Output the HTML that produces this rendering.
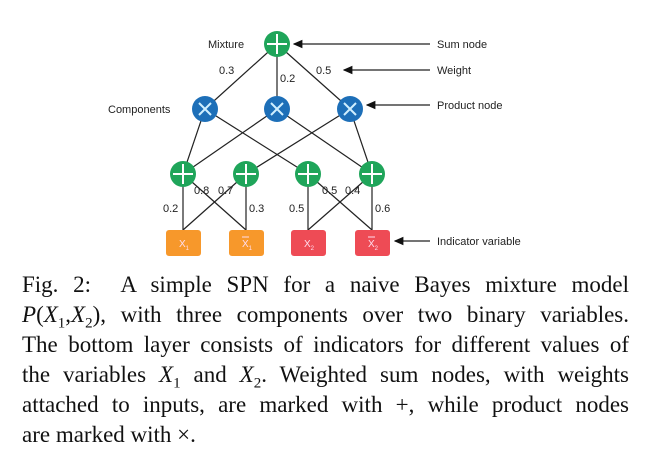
<!DOCTYPE html>
<html><head><style>
body{margin:0;width:656px;height:454px;background:#fff;position:relative;overflow:hidden}
.c{position:absolute;left:22px;width:607px;font-family:"Liberation Serif",serif;font-size:23px;line-height:30px;text-align:justify;text-align-last:justify;color:#111;white-space:nowrap}
sub{font-size:15px;line-height:0}
</style></head><body>
<svg width="656" height="270" style="position:absolute;left:0;top:0" font-family="Liberation Sans, sans-serif">
<defs><marker id="a" markerWidth="8" markerHeight="8" refX="7" refY="4" orient="auto"><path d="M0,0.5 L8,4 L0,7.5 z" fill="#111"/></marker></defs>
<g stroke="#222" stroke-width="1.2">
<line x1="277" y1="44" x2="205" y2="109"/><line x1="277" y1="44" x2="277" y2="109"/><line x1="277" y1="44" x2="350" y2="109"/>
<line x1="205" y1="109" x2="183" y2="174"/><line x1="205" y1="109" x2="308" y2="174"/>
<line x1="277" y1="109" x2="183" y2="174"/><line x1="277" y1="109" x2="372" y2="174"/>
<line x1="350" y1="109" x2="246" y2="174"/><line x1="350" y1="109" x2="372" y2="174"/>
<line x1="183" y1="174" x2="183" y2="230"/><line x1="183" y1="174" x2="246" y2="230"/>
<line x1="246" y1="174" x2="183" y2="230"/><line x1="246" y1="174" x2="246" y2="230"/>
<line x1="308" y1="174" x2="308" y2="230"/><line x1="308" y1="174" x2="372" y2="230"/>
<line x1="372" y1="174" x2="308" y2="230"/><line x1="372" y1="174" x2="372" y2="230"/>
<line x1="430" y1="44" x2="294" y2="44" marker-end="url(#a)"/>
<line x1="430" y1="70" x2="344" y2="70" marker-end="url(#a)"/>
<line x1="430" y1="105" x2="367" y2="105" marker-end="url(#a)"/>
<line x1="430" y1="241" x2="395" y2="241" marker-end="url(#a)"/>
</g>
<g fill="#1fa55a"><circle cx="277" cy="44" r="13"/><circle cx="183" cy="174" r="13"/><circle cx="246" cy="174" r="13"/><circle cx="308" cy="174" r="13"/><circle cx="372" cy="174" r="13"/></g>
<g stroke="#fff" stroke-width="2"><path d="M277 34v20M267 44h20M183 164v20M173 174h20M246 164v20M236 174h20M308 164v20M298 174h20M372 164v20M362 174h20"/></g>
<g fill="#1d6fb8"><circle cx="205" cy="109" r="13"/><circle cx="277" cy="109" r="13"/><circle cx="350" cy="109" r="13"/></g>
<g stroke="#cfefff" stroke-width="2"><path d="M199 103l12 12M211 103l-12 12M271 103l12 12M283 103l-12 12M344 103l12 12M356 103l-12 12"/></g>
<rect x="166" y="230" width="35" height="26" rx="3" fill="#f7982b"/><rect x="229" y="230" width="35" height="26" rx="3" fill="#f7982b"/>
<rect x="291" y="230" width="35" height="26" rx="3" fill="#ee4b55"/><rect x="355" y="230" width="35" height="26" rx="3" fill="#ee4b55"/>
<g fill="#fde" font-size="10"><text x="179" y="247">X<tspan font-size="6" dy="3">1</tspan></text><text x="242" y="247">X<tspan font-size="6" dy="3">1</tspan></text><text x="304" y="247">X<tspan font-size="6" dy="3">2</tspan></text><text x="368" y="247">X<tspan font-size="6" dy="3">2</tspan></text></g>
<path d="M242 237h7M368 237h7" stroke="#fde"/>
<g fill="#222" font-size="11">
<text x="208" y="48">Mixture</text><text x="108" y="113">Components</text>
<text x="219" y="74">0.3</text><text x="280" y="82">0.2</text><text x="316" y="74">0.5</text>
<text x="163" y="212">0.2</text><text x="194" y="194">0.8</text><text x="218" y="194">0.7</text><text x="249" y="212">0.3</text>
<text x="289" y="212">0.5</text><text x="322" y="194">0.5</text><text x="345" y="194">0.4</text><text x="375" y="212">0.6</text>
<text x="437" y="48">Sum node</text><text x="437" y="74">Weight</text><text x="437" y="109">Product node</text><text x="437" y="245">Indicator variable</text>
</g>
</svg>
<div class="c" style="top:270px">Fig. 2: &nbsp;A simple SPN for a naive Bayes mixture model</div>
<div class="c" style="top:300px"><i>P</i>(<i>X</i><sub>1</sub>,<i>X</i><sub>2</sub>), with three components over two binary variables.</div>
<div class="c" style="top:330px">The bottom layer consists of indicators for different values of</div>
<div class="c" style="top:360px">the variables <i>X</i><sub>1</sub> and <i>X</i><sub>2</sub>. Weighted sum nodes, with weights</div>
<div class="c" style="top:390px">attached to inputs, are marked with +, while product nodes</div>
<div class="c" style="top:420px;text-align-last:left">are marked with ×.</div>
</body></html>
